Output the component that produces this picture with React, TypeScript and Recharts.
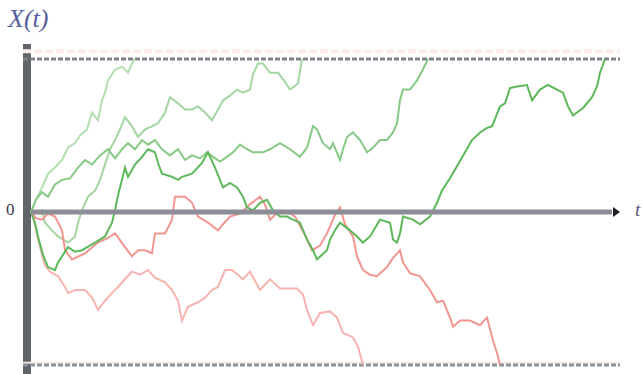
import {
  LineChart,
  Line,
  XAxis,
  YAxis,
  ReferenceLine,
  ReferenceArea,
  ReferenceDot,
} from 'recharts';

// time runs 0..T_END, barriers at X = +1 / -1
const T_END = 117.8;

// green paths (absorbed at the upper barrier)
const g1T = [0, 1, 2.2, 3.4, 4.8, 6.2, 7.4, 8.8, 9.8, 11.2, 12.2, 13.4, 14.2, 14.8, 15.4, 16.8, 18.2, 19.4, 20.2, 20.8];
const g1X = [0, 0.08, 0.16, 0.25, 0.29, 0.34, 0.42, 0.45, 0.5, 0.54, 0.65, 0.6, 0.73, 0.78, 0.86, 0.93, 0.95, 0.91, 0.97, 1];

const g2T = [0, 1.4, 2.2, 2.8, 4.2, 5.4, 6.4, 7.4, 8.8, 9.4, 10.2, 11.4, 12.8, 13.8, 14.8, 15.8, 16.8, 17.8, 18.8, 20.2, 21.4, 22.8, 24.2, 25.4, 26.8, 27.8, 29.4, 30.8, 32.2, 33.4, 34.8, 36.2, 37.4, 38.4, 39.8, 41.2, 42.4, 43.8, 44.4, 45.4, 46.4, 47.8, 49.4, 50.6, 51.8, 53.4, 54.2];
const g2X = [0, -0.01, 0.01, -0.07, -0.12, -0.16, -0.18, -0.2, -0.16, -0.07, 0.01, 0.1, 0.14, 0.21, 0.31, 0.41, 0.47, 0.54, 0.62, 0.56, 0.49, 0.54, 0.56, 0.58, 0.65, 0.75, 0.71, 0.67, 0.67, 0.69, 0.65, 0.6, 0.67, 0.73, 0.76, 0.8, 0.78, 0.8, 0.9, 0.97, 0.97, 0.91, 0.91, 0.86, 0.8, 0.84, 1];

const g3T = [0, 1, 2.2, 3.4, 4.8, 6.2, 7.8, 9.4, 10.8, 12.2, 13.8, 15.4, 16.8, 18.2, 19.4, 20.8, 22.2, 23.4, 24.8, 26.2, 27.8, 29.4, 30.8, 32.2, 33.8, 35.2, 36.4, 37.8, 39.2, 40.4, 41.8, 43.2, 44.4, 46.4, 47.8, 49.8, 51.8, 53.8, 55.2, 56.4, 57.2, 58.4, 59.8, 60.4, 61.8, 62.4, 63.2, 64.4, 65.8, 67.2, 68.4, 69.8, 71.2, 72.4, 73.2, 73.8, 74.4, 75.8, 77.2, 78.2, 79.4];
const g3X = [0, 0.08, 0.13, 0.1, 0.18, 0.21, 0.22, 0.29, 0.34, 0.31, 0.37, 0.41, 0.35, 0.41, 0.45, 0.41, 0.47, 0.44, 0.47, 0.41, 0.37, 0.41, 0.34, 0.37, 0.35, 0.39, 0.36, 0.33, 0.36, 0.39, 0.44, 0.41, 0.39, 0.39, 0.41, 0.45, 0.41, 0.36, 0.42, 0.56, 0.54, 0.45, 0.41, 0.45, 0.34, 0.41, 0.49, 0.52, 0.47, 0.39, 0.42, 0.47, 0.47, 0.52, 0.58, 0.73, 0.8, 0.8, 0.86, 0.92, 1];

const g4T = [0, 0.8, 1.4, 2.4, 3.4, 4.8, 5.4, 7.4, 8.8, 10.2, 12.8, 14.8, 16.2, 16.8, 17.4, 18.2, 18.8, 19.4, 20.8, 22.2, 23.4, 24.8, 25.4, 26.2, 28.2, 29.4, 30.2, 32.2, 34.2, 35.4, 36.8, 37.8, 38.4, 39.8, 41.2, 42.4, 43.2, 44.4, 45.8, 47.2, 48.4, 49.8, 51.2, 52.4, 53.8, 55.2, 56.4, 57.2, 58.2, 59.2, 59.8, 60.8, 61.8, 63.8, 65.2, 66.4, 67.8, 69.8, 71.8, 72.4, 73.2, 73.8, 74.4, 76.4, 77.8, 79.8, 81.2, 82.2, 83.8, 85.4, 86.8, 88.2, 89.8, 91.2, 92.2, 93.8, 94.8, 95.8, 97.2, 99.2, 100.2, 101.8, 103.4, 105.2, 106.4, 107.4, 108.4, 110.4, 112.2, 113.2, 113.8, 114.8];
const g4X = [0, -0.07, -0.16, -0.28, -0.36, -0.38, -0.33, -0.23, -0.26, -0.25, -0.2, -0.16, -0.07, 0.01, 0.11, 0.21, 0.29, 0.23, 0.31, 0.36, 0.41, 0.39, 0.32, 0.25, 0.23, 0.21, 0.23, 0.25, 0.32, 0.39, 0.29, 0.21, 0.16, 0.19, 0.16, 0.1, 0.03, 0.01, 0.06, 0.08, 0.01, -0.03, -0.03, -0.05, -0.07, -0.18, -0.25, -0.31, -0.28, -0.25, -0.18, -0.12, -0.07, -0.12, -0.16, -0.2, -0.16, -0.05, -0.07, -0.18, -0.2, -0.14, -0.03, -0.05, -0.08, -0.03, 0.06, 0.14, 0.22, 0.31, 0.39, 0.47, 0.52, 0.55, 0.56, 0.69, 0.71, 0.81, 0.82, 0.83, 0.73, 0.8, 0.83, 0.8, 0.78, 0.69, 0.63, 0.68, 0.75, 0.82, 0.91, 1];

// red paths (absorbed at the lower barrier)
const r1T = [0, 0.8, 1.4, 2.2, 2.8, 3.8, 5.4, 6.8, 7.4, 8.8, 10.8, 12.2, 13.4, 14.8, 16.2, 17.4, 18.8, 20.2, 21.8, 23.4, 24.8, 26.8, 28.2, 29.4, 30.2, 31.4, 33.4, 34.8, 36.2, 37.4, 38.8, 40.2, 41.4, 42.4, 43.8, 45.8, 47.8, 49.8, 53.2, 54.4, 55.2, 56.4, 57.8, 59.8, 61.2, 62.4, 64.4, 65.4, 66.4];
const r1X = [0, -0.08, -0.18, -0.28, -0.35, -0.39, -0.42, -0.49, -0.53, -0.51, -0.51, -0.56, -0.64, -0.58, -0.53, -0.49, -0.44, -0.39, -0.41, -0.38, -0.43, -0.46, -0.51, -0.58, -0.71, -0.62, -0.59, -0.56, -0.51, -0.49, -0.38, -0.38, -0.41, -0.44, -0.39, -0.51, -0.44, -0.5, -0.5, -0.54, -0.64, -0.74, -0.66, -0.65, -0.69, -0.79, -0.82, -0.88, -1];

const r2T = [0, 1, 2.2, 3.4, 4.8, 6.2, 6.8, 8.2, 10.8, 13.4, 15.4, 16.8, 18.8, 20.2, 21.4, 22.8, 24.2, 24.8, 26.8, 28.2, 28.8, 30.8, 32.2, 33.4, 35.4, 37.4, 38.4, 39.8, 41.8, 43.8, 45.8, 46.8, 47.8, 49.8, 51.4, 52.8, 54.8, 56.2, 57.8, 59.2, 60.8, 61.8, 62.8, 64.4, 65.2, 66.4, 67.8, 69.2, 71.2, 72.4, 73.8, 74.4, 75.8, 77.8, 79.8, 81.2, 82.4, 83.8, 84.4, 85.8, 87.8, 89.8, 91.2, 92.4, 93.2, 93.8];
const r2X = [0, -0.04, -0.05, -0.01, -0.03, -0.12, -0.25, -0.31, -0.27, -0.2, -0.17, -0.14, -0.23, -0.29, -0.25, -0.25, -0.27, -0.14, -0.14, -0.05, 0.1, 0.1, 0.06, -0.03, -0.07, -0.12, -0.08, -0.03, -0.01, 0.05, 0.1, 0.05, -0.05, 0.01, 0, -0.03, -0.15, -0.25, -0.22, -0.14, -0.02, 0.03, -0.08, -0.16, -0.29, -0.38, -0.41, -0.42, -0.36, -0.3, -0.25, -0.33, -0.4, -0.42, -0.51, -0.59, -0.58, -0.69, -0.75, -0.71, -0.71, -0.74, -0.69, -0.84, -0.92, -1];

const toPoints = (t: number[], x: number[]) => t.map((v, i) => ({ t: v, x: x[i] }));

const paths = [
  { key: 'r1', data: toPoints(r1T, r1X), color: '#f6b3b0' },
  { key: 'g1', data: toPoints(g1T, g1X), color: '#b3deb0' },
  { key: 'g2', data: toPoints(g2T, g2X), color: '#a3d6a0' },
  { key: 'r2', data: toPoints(r2T, r2X), color: '#f19590' },
  { key: 'g3', data: toPoints(g3T, g3X), color: '#86c984' },
  { key: 'g4', data: toPoints(g4T, g4X), color: '#5cb85a' },
];

const Arrow = (props: any) => {
  const { cx, cy } = props;
  return <polygon points={`${cx - 3},${cy - 5} ${cx + 4},${cy} ${cx - 3},${cy + 5}`} fill="#1e2024" />;
};

export default function App() {
  return (
    <div style={{ position: 'fixed', left: 0, top: 0, width: 643, height: 374, background: '#fff' }}>
      <LineChart
        width={643}
        height={374}
        margin={{ top: 44, right: 23, bottom: 0, left: 23 }}
      >
        <XAxis dataKey="t" type="number" domain={[-1.6, T_END]} hide allowDataOverflow />
        <YAxis dataKey="x" type="number" domain={[-1.059, 1.098]} hide allowDataOverflow />
        {/* faint pink traces next to the barriers */}
        <ReferenceLine y={1.05} stroke="#fcecea" strokeWidth={4} strokeDasharray="8 3" />
        <ReferenceLine y={-0.985} stroke="#f9e9e6" strokeWidth={2} />
        {/* absorbing barriers */}
        <ReferenceLine y={1} stroke="#7d8189" strokeWidth={3} strokeDasharray="5 2" />
        <ReferenceLine y={-1} stroke="#8a929a" strokeWidth={3} strokeDasharray="5 2" />
        {paths.map((p) => (
          <Line
            key={p.key}
            data={p.data}
            dataKey="x"
            type="linear"
            stroke={p.color}
            strokeWidth={2}
            dot={false}
            isAnimationActive={false}
          />
        ))}
        {/* time axis */}
        <ReferenceLine
          segment={[{ x: 0, y: 0 }, { x: 116.2, y: 0 }]}
          stroke="#8c8d96"
          strokeWidth={5}
        />
        <ReferenceDot x={117} y={0} r={4} shape={Arrow} />
        {/* vertical axis bar */}
        <ReferenceArea x1={-1.6} x2={0} y1={-1.059} y2={1.098} fill="#616569" fillOpacity={1} stroke="none" />
      </LineChart>
      <div
        style={{
          position: 'absolute',
          left: 8,
          top: 6,
          fontFamily: '"Liberation Serif", serif',
          fontStyle: 'italic',
          fontSize: 26,
          color: '#56609c',
          lineHeight: 1,
        }}
      >
        X(t)
      </div>
      <div
        style={{
          position: 'absolute',
          left: 6,
          top: 201,
          fontFamily: '"Liberation Serif", serif',
          fontSize: 17,
          color: '#3a3a4a',
          lineHeight: 1,
        }}
      >
        0
      </div>
      <div
        style={{
          position: 'absolute',
          left: 635,
          top: 200,
          fontFamily: '"Liberation Serif", serif',
          fontStyle: 'italic',
          fontSize: 19,
          color: '#5a5a7a',
          lineHeight: 1,
        }}
      >
        t
      </div>
    </div>
  );
}
